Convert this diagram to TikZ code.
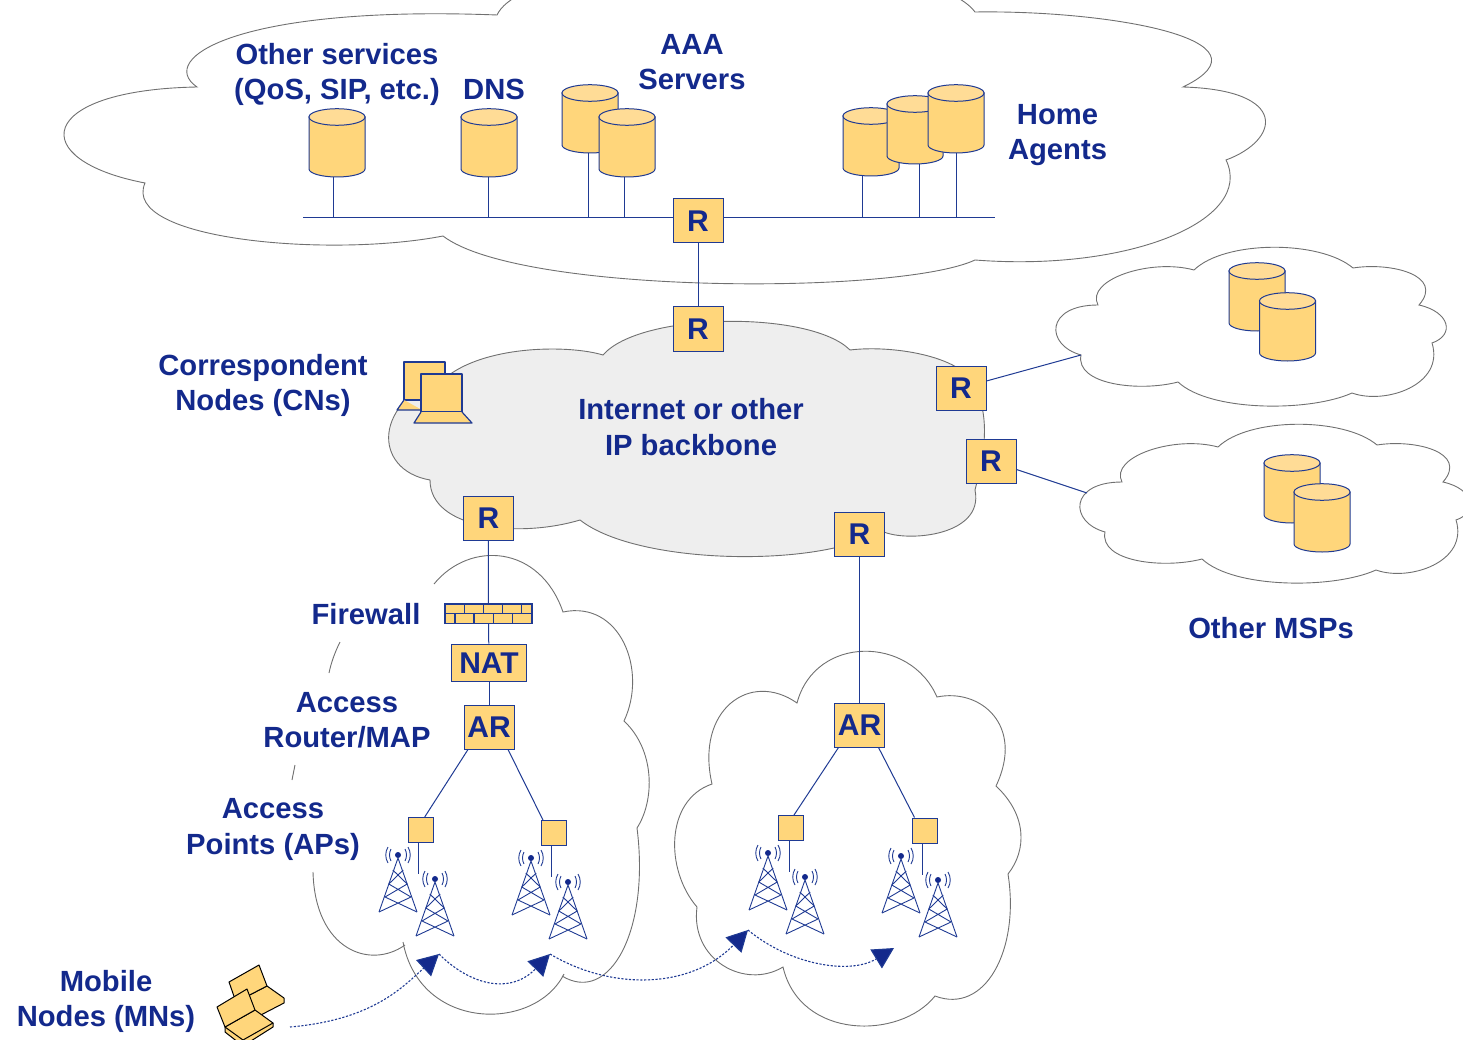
\documentclass[tikz,border=0pt]{standalone}
\usepackage{fontspec}
\setmainfont{Liberation Sans}
\usetikzlibrary{arrows.meta,calc}
\definecolor{ink}{HTML}{13298C}
\definecolor{wire}{HTML}{1F3A93}
\definecolor{gold}{HTML}{FFD67B}
\definecolor{goldtop}{HTML}{FFDC96}
\definecolor{cloudedge}{HTML}{707070}
\definecolor{backbone}{HTML}{EEEEEE}
\pgfdeclarelayer{clouds}
\pgfdeclarelayer{edges}
\pgfsetlayers{clouds,edges,main}
\newcommand{\mspoutline}{(1194,270) .. controls (1225,240) and (1320,240) .. (1353,268)
  .. controls (1390,262) and (1445,275) .. (1419,305)
  .. controls (1450,312) and (1455,335) .. (1432,343)
  .. controls (1445,385) and (1385,405) .. (1352,393)
  .. controls (1310,412) and (1210,412) .. (1178,382)
  .. controls (1140,392) and (1075,385) .. (1081,355)
  .. controls (1045,345) and (1045,305) .. (1098,305)
  .. controls (1085,280) and (1150,258) .. (1194,270) -- cycle}
\tikzset{
  x=1pt,y=-1pt,
  label text/.style={text=ink,font=\fontsize{29.2}{35.3}\selectfont\bfseries,align=center,inner sep=0pt},
  boxnode/.style={draw=wire,fill=gold,line width=1pt,inner sep=0pt,text=ink,font=\fontsize{30}{32}\selectfont\bfseries,minimum width=50pt,minimum height=44pt},
  apbox/.style={draw=wire,fill=gold,line width=1pt,inner sep=0pt,minimum width=25pt,minimum height=25pt},
  link/.style={draw=wire,line width=1pt},
  cloudline/.style={draw=cloudedge,line width=0.9pt},
  hop/.style={draw=wire,line width=1.1pt,dash pattern=on 2.2pt off 1.6pt,-{Triangle[length=21pt,width=22pt,fill=ink]}},
  mn/.style={draw=black,fill=gold,line width=1pt,line join=round},
  lap/.style={draw=wire,fill=gold,line width=1.2pt,line join=round},
  towerline/.style={draw=wire,line width=0.9pt},
  pics/drum/.style={code={
    \path[draw=wire,fill=gold,line width=1pt] (-28,-26) -- (-28,26)
      .. controls (-28,30.4) and (-15.5,34) .. (0,34)
      .. controls (15.5,34) and (28,30.4) .. (28,26) -- (28,-26) -- cycle;
    \path[draw=wire,fill=goldtop,line width=1pt] (0,-26) ellipse [x radius=28pt,y radius=8.3pt];
  }},
  pics/tower/.style={code={
    \fill[ink] (0,0) circle (3pt);
    \path[towerline] (0,3) -- (-19,57) (0,3) -- (19,57);
    \path[towerline] (-5.2,15) -- (9.2,29) (5.2,15) -- (-9.2,29)
      (-9.2,29) -- (13,42) (9.2,29) -- (-13,42)
      (-13,42) -- (19,57) (13,42) -- (-19,57);
    \path[towerline] (-7,-6) .. controls (-9,-2) and (-9,2) .. (-7,6) (7,-6) .. controls (9,-2) and (9,2) .. (7,6)
      (-10,-8) .. controls (-13,-3) and (-13,3) .. (-10,8) (10,-8) .. controls (13,-3) and (13,3) .. (10,8);
  }}
}
\begin{document}
\begin{tikzpicture}
\useasboundingbox (0,0) rectangle (1463,1040);
\clip (0,0) rectangle (1463,1040);
\begin{pgfonlayer}{clouds}
% top cloud
\path[cloudline] (197,87) .. controls (155,58) and (240,5) .. (497,15)
  .. controls (530,-55) and (925,-55) .. (975,12)
  .. controls (1110,10) and (1280,40) .. (1183,87)
  .. controls (1290,90) and (1280,140) .. (1226,160)
  .. controls (1255,220) and (1130,272) .. (975,260)
  .. controls (900,295) and (520,295) .. (443,236)
  .. controls (330,258) and (120,240) .. (145,183)
  .. controls (25,160) and (35,90) .. (197,87) -- cycle;
% backbone
\path[cloudline,fill=backbone] (449,375) .. controls (490,345) and (570,345) .. (603,355)
  .. controls (640,312) and (810,310) .. (850,350)
  .. controls (890,345) and (960,355) .. (975,385)
  .. controls (990,420) and (985,450) .. (975,490)
  .. controls (985,538) and (900,543) .. (880,530)
  .. controls (830,567) and (640,567) .. (580,520)
  .. controls (520,538) and (430,530) .. (430,480)
  .. controls (372,470) and (372,400) .. (449,375) -- cycle;
% MSP clouds
\path[cloudline] \mspoutline;
\path[cloudline,shift={(24,177)}] \mspoutline;
% left access cloud (interrupted by its labels)
\path[cloudline] (434,584) .. controls (470,540) and (540,545) .. (563,612)
  .. controls (620,600) and (648,670) .. (624,721)
  .. controls (655,750) and (655,800) .. (637,828)
  .. controls (650,930) and (610,1005) .. (562,976);
\path[cloudline] (564,974) .. controls (535,1032) and (420,1032) .. (403,942);
\path[cloudline] (405,945) .. controls (370,970) and (315,950) .. (313,872);
\path[cloudline] (340,642) .. controls (335,652) and (331,663) .. (329,673);
\path[cloudline] (295,765) -- (292,780);
% right access cloud
\path[cloudline] (797,703) .. controls (815,635) and (910,635) .. (937,697)
  .. controls (980,688) and (1025,725) .. (996,786)
  .. controls (1027,815) and (1027,850) .. (1008,874)
  .. controls (1020,950) and (985,1015) .. (935,996)
  .. controls (900,1040) and (800,1040) .. (783,967)
  .. controls (745,990) and (690,960) .. (697,907)
  .. controls (665,870) and (665,800) .. (712,784)
  .. controls (695,710) and (750,670) .. (797,703) -- cycle;
\end{pgfonlayer}

% routers and boxes
\node[boxnode] (Rtop) at (698,221) {R};
\node[boxnode] (Rcore) at (698,329) {R};
\node[boxnode] (Rmsp1) at (961,388) {R};
\node[boxnode] (Rmsp2) at (991,461) {R};
\node[boxnode] (Rleft) at (488.5,518) {R};
\node[boxnode] (Rright) at (859.5,534) {R};
\node[boxnode,minimum width=75pt,minimum height=37pt] (nat) at (489,662.7) {NAT};
\node[boxnode] (arL) at (489,727) {AR};
\node[boxnode] (arR) at (859.5,725) {AR};
\node[draw=wire,fill=gold,line width=1.2pt,minimum width=87pt,minimum height=19.5pt,inner sep=0pt] (fw) at (488.4,613.7) {};
\draw[wire,line width=1.2pt] (fw.west) -- (fw.east)
  (464.3,604) -- (464.3,613.7) (483.3,604) -- (483.3,613.7) (502.7,604) -- (502.7,613.7) (521.7,604) -- (521.7,613.7)
  (455,613.7) -- (455,623.4) (474,613.7) -- (474,623.4) (493.3,613.7) -- (493.3,623.4) (512.3,613.7) -- (512.3,623.4);
\node[apbox] (ap1) at (420.7,830) {};
\node[apbox] (ap2) at (554,833) {};
\node[apbox] (ap3) at (791,828) {};
\node[apbox] (ap4) at (924.5,830.5) {};
\coordinate (ap1end) at (418.3,874);
\coordinate (ap2end) at (551.3,876.7);
\coordinate (ap3end) at (789,872);
\coordinate (ap4end) at (922,875);
% cylinders
\pic at (337,143) {drum};
\pic at (489,143) {drum};
\pic at (590,119) {drum};
\pic at (627,143) {drum};
\pic at (871,142) {drum};
\pic at (915,130) {drum};
\pic at (956,119) {drum};
\pic at (1257,297) {drum};
\pic at (1287.5,327) {drum};
\pic at (1292,489) {drum};
\pic at (1322,518) {drum};
% cylinder feet on the bus
\coordinate (fOther) at (333,175);
\coordinate (fDNS) at (488,175);
\coordinate (fAAA1) at (588,150);
\coordinate (fAAA2) at (624,175);
\coordinate (fHA1) at (862,175);
\coordinate (fHA2) at (919,160);
\coordinate (fHA3) at (956,150);

\coordinate (busL) at (303,217.5);
\coordinate (busR) at (995,217.5);
\coordinate (cloudA) at (1081,355);
\coordinate (cloudB) at (1087,493);
\begin{pgfonlayer}{edges}
\path[link] (busL) -- (busR);
\path[link] (Rtop) -- (Rcore);
\path[link] (Rmsp1) -- (cloudA);
\path[link] (Rmsp2) -- (cloudB);
\path[link] (Rleft) -- (fw);
\path[link] (fw) -- (nat);
\path[link] (nat) -- (arL);
\path[link] (Rright) -- (arR);
\path[link] (fOther) -- (fOther |- busL);
\path[link] (fDNS) -- (fDNS |- busL);
\path[link] (fAAA1) -- (fAAA1 |- busL);
\path[link] (fAAA2) -- (fAAA2 |- busL);
\path[link] (fHA1) -- (fHA1 |- busL);
\path[link] (fHA2) -- (fHA2 |- busL);
\path[link] (fHA3) -- (fHA3 |- busL);
\path[link] ($(arL.south)+(-21,0)$) -- ($(ap1.north)+(4,0)$);
\path[link] ($(arL.south)+(19,0)$) -- ($(ap2.north)+(-11,0)$);
\path[link] ($(arR.south)+(-21,0)$) -- ($(ap3.north)+(3,0)$);
\path[link] ($(arR.south)+(19,0)$) -- ($(ap4.north)+(-10,0)$);
\path[link] (ap1end |- ap1) -- (ap1end);
\path[link] (ap2end |- ap2) -- (ap2end);
\path[link] (ap3end |- ap3) -- (ap3end);
\path[link] (ap4end |- ap4) -- (ap4end);
\end{pgfonlayer}

% towers
\pic at (398,855) {tower};
\pic at (435,879) {tower};
\pic at (531,858) {tower};
\pic at (568,882) {tower};
\pic at (768,853) {tower};
\pic at (805,877) {tower};
\pic at (901,856) {tower};
\pic at (938,880) {tower};

% correspondent laptops
\path[lap] (404,362) rectangle (445,400);
\path[lap] (404,400) -- (397,410) -- (422,410);
\path[lap] (421,374) rectangle (462,412);
\path[lap] (421,412) -- (414,423) -- (472,423) -- (462,412);

% mobile nodes
\path[mn] (267,986) -- (284,998) -- (284,1003) -- (255,1018) -- (236,1002) -- cycle;
\path[mn] (229,982) -- (259,965) -- (267,986) -- (236,1002) -- cycle;
\path[mn] (225,1027) -- (225,1032) -- (243,1046) -- (273,1027) -- (273,1023) -- cycle;
\path[mn] (225,1027) -- (255,1010) -- (273,1023) -- (243,1040) -- cycle;
\path[mn] (217,1007) -- (247,989) -- (255,1010) -- (225,1027) -- cycle;

% labels
\node[label text] (tOther) at (337,74.5) {Other services\\(QoS, SIP, etc.)};
\node[label text] (tDNS) at (494,89) {DNS};
\node[label text] (tAAA) at (692,62) {AAA\\Servers};
\node[label text] (tHome) at (1057.5,135) {Home\\Agents};
\node[label text] (tCN) at (263,385.5) {Correspondent\\Nodes (CNs)};
\node[label text] (tInternet) at (691,427) {Internet or other\\IP backbone};
\node[label text] (tMSP) at (1271,628) {Other MSPs};
\node[label text] (tFW) at (366,614) {Firewall};
\node[label text] (tAR) at (347,720.5) {Access\\Router/MAP};
\node[label text] (tAP) at (273,829.5) {Access\\Points (APs)};
\node[label text] (tMN) at (106,1001.5) {Mobile\\Nodes (MNs)};

% handover path
\coordinate (h0) at (290,1027);
\coordinate (h1) at (439,954);
\coordinate (h2) at (550,954);
\coordinate (h3) at (748,930);
\coordinate (h4) at (894,948);
\path[hop] (h0) .. controls (370,1020) and (400,990) .. (h1);
\path[hop] (h1) .. controls (470,985) and (510,995) .. (h2);
\path[hop] (h2) .. controls (610,990) and (690,990) .. (h3);
\path[hop] (h3) .. controls (790,965) and (850,975) .. (h4);
\end{tikzpicture}
\end{document}
